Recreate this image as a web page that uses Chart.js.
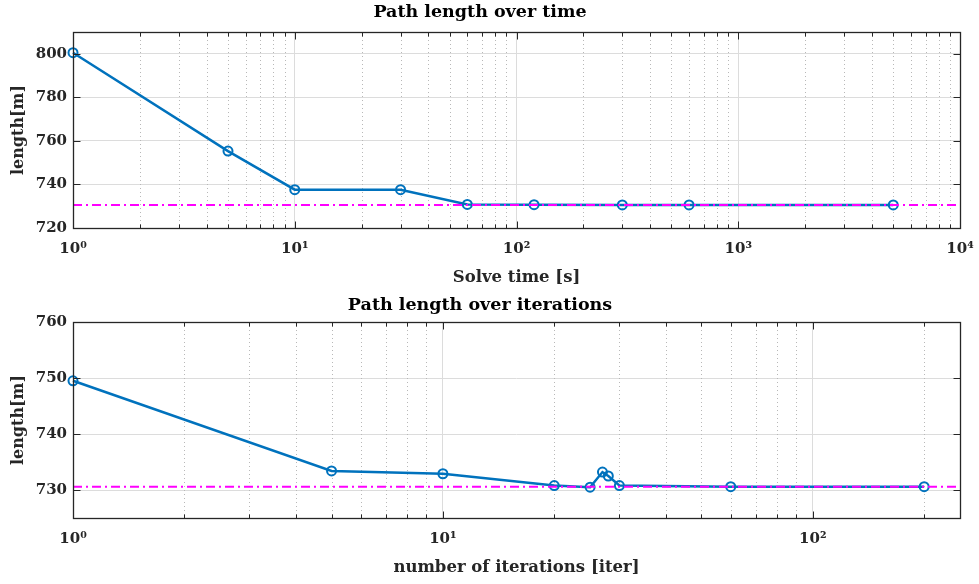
<!DOCTYPE html>
<html lang="en">
<head>
<meta charset="UTF-8">
<title>Path length</title>
<script src="https://cdn.jsdelivr.net/npm/chart.js"></script>
<style>
  html, body { margin: 0; padding: 0; background: #fff; }
  .panel { position: relative; width: 979px; }
  #topPanel { height: 290px; }
  #bottomPanel { height: 294px; }
</style>
</head>
<body>
<div class="panel" id="topPanel"><canvas id="timeChart"></canvas></div>
<div class="panel" id="bottomPanel"><canvas id="iterChart"></canvas></div>
<script>
// path length against solve time
const solveTimes  = [1, 5, 10, 30, 60, 120, 300, 600, 5000];
const timeLengths = [800.5, 755.3, 737.6, 737.6, 730.8, 730.7, 730.6, 730.6, 730.6];

// path length against number of iterations
const iterCounts  = [1, 5, 10, 20, 25, 27, 28, 30, 60, 200];
const iterLengths = [749.5, 733.4, 732.9, 730.8, 730.5, 733.2, 732.5, 730.8, 730.6, 730.6];

// reference length (dash-dot line)
const refLength = 730.6;

const timeYTicks = [720, 740, 760, 780, 800];
const iterYTicks = [730, 740, 750, 760];
const superscripts = ['\u2070', '\u00B9', '\u00B2', '\u00B3', '\u2074'];

const FONT = 'DejaVu Serif';
const TICK_SIZE = 15;
const LABEL_SIZE = 16.5;
const TITLE_SIZE = 17.5;
const AXIS_COLOR = '#262626';

// all 1..9 x 10^k values inside [min, max]; decades flagged as major
function logTicks(min, max) {
  const out = [];
  for (let k = Math.floor(Math.log10(min)); k <= Math.ceil(Math.log10(max)); k++) {
    for (let m = 1; m <= 9; m++) {
      const v = m * Math.pow(10, k);
      if (v >= min - 1e-9 && v <= max + 1e-9) out.push({ value: v, major: m === 1 });
    }
  }
  return out;
}

function decadeLabel(value) {
  const e = Math.round(Math.log10(value));
  if (Math.abs(Math.pow(10, e) - value) > 1e-6) return '';
  return '10' + superscripts[e];
}

// minor dotted grid, axes box and inward tick marks
const matlabFrame = {
  id: 'matlabFrame',
  beforeDatasetsDraw(chart) {
    const { ctx, chartArea: a, scales: { x } } = chart;
    ctx.save();
    ctx.strokeStyle = '#b8b8b8';
    ctx.lineWidth = 1;
    ctx.setLineDash([1, 3]);
    x.ticks.forEach(t => {
      if (t.major) return;
      const px = Math.round(x.getPixelForValue(t.value)) + 0.5;
      ctx.beginPath();
      ctx.moveTo(px, a.top);
      ctx.lineTo(px, a.bottom);
      ctx.stroke();
    });
    ctx.restore();
  },
  afterDatasetsDraw(chart) {
    const { ctx, chartArea: a, scales: { x, y } } = chart;
    const L = Math.round(a.left) + 0.5, R = Math.round(a.right) + 0.5;
    const T = Math.round(a.top) + 0.5, B = Math.round(a.bottom) + 0.5;
    ctx.save();
    ctx.strokeStyle = AXIS_COLOR;
    ctx.lineWidth = 1;
    ctx.beginPath();
    x.ticks.forEach(t => {
      const px = Math.round(x.getPixelForValue(t.value)) + 0.5;
      const len = t.major ? 7 : 4;
      ctx.moveTo(px, B); ctx.lineTo(px, B - len);
      ctx.moveTo(px, T); ctx.lineTo(px, T + len);
    });
    y.ticks.forEach(t => {
      const py = Math.round(y.getPixelForValue(t.value)) + 0.5;
      ctx.moveTo(L, py); ctx.lineTo(L + 7, py);
      ctx.moveTo(R, py); ctx.lineTo(R - 7, py);
    });
    ctx.stroke();
    ctx.lineWidth = 1.3;
    ctx.strokeRect(L, T, R - L, B - T);
    ctx.restore();
  }
};

function buildChart(id, cfg) {
  const xs = cfg.xValues, ys = cfg.yValues;
  return new Chart(document.getElementById(id), {
    type: 'line',
    data: {
      datasets: [
        {
          data: [{ x: cfg.xMin, y: refLength }, { x: cfg.xMax, y: refLength }],
          borderColor: '#FF00FF',
          borderWidth: 2,
          borderDash: [9, 4, 2, 4],
          pointRadius: 0,
          clip: false,
          order: 0
        },
        {
          data: xs.map((v, i) => ({ x: v, y: ys[i] })),
          borderColor: '#0072BD',
          borderWidth: 2.5,
          pointRadius: 4.5,
          pointBorderWidth: 2,
          pointBorderColor: '#0072BD',
          pointBackgroundColor: 'rgba(0,0,0,0)',
          tension: 0,
          clip: false,
          order: 1
        }
      ]
    },
    options: {
      responsive: true,
      maintainAspectRatio: false,
      animation: false,
      events: [],
      layout: { padding: { left: 0, right: 19, top: 0, bottom: 0 } },
      plugins: {
        legend: { display: false },
        tooltip: { enabled: false },
        title: {
          display: true,
          text: cfg.title,
          color: '#000',
          font: { family: FONT, size: TITLE_SIZE, weight: 'bold' },
          padding: cfg.titlePadding
        }
      },
      scales: {
        x: {
          type: 'logarithmic',
          min: cfg.xMin,
          max: cfg.xMax,
          afterBuildTicks: s => { s.ticks = logTicks(cfg.xMin, cfg.xMax); },
          afterFit: s => { s.height = cfg.xAxisHeight; s.paddingLeft = 0; s.paddingRight = 0; },
          grid: {
            drawTicks: false,
            color: c => (c.tick && c.tick.major) ? '#dcdcdc' : 'rgba(0,0,0,0)'
          },
          border: { display: false },
          ticks: {
            autoSkip: false,
            maxRotation: 0,
            padding: 12,
            color: AXIS_COLOR,
            font: { family: FONT, size: TICK_SIZE, weight: 'bold' },
            callback: v => decadeLabel(v)
          },
          title: {
            display: true,
            text: cfg.xTitle,
            color: AXIS_COLOR,
            font: { family: FONT, size: LABEL_SIZE, weight: 'bold' },
            padding: { top: 0, bottom: cfg.xTitlePad }
          }
        },
        y: {
          min: cfg.yMin,
          max: cfg.yMax,
          afterBuildTicks: s => { s.ticks = cfg.yTicks.map(v => ({ value: v })); },
          afterFit: s => { s.width = 73; s.paddingTop = 0; s.paddingBottom = 0; },
          grid: { drawTicks: false, color: '#dcdcdc' },
          border: { display: false },
          ticks: {
            padding: 6,
            color: AXIS_COLOR,
            font: { family: FONT, size: TICK_SIZE, weight: 'bold' }
          },
          title: {
            display: true,
            text: 'length[m]',
            color: AXIS_COLOR,
            font: { family: FONT, size: 16, weight: 'bold' },
            padding: { top: 9, bottom: 0 }
          }
        }
      }
    },
    plugins: [matlabFrame]
  });
}

buildChart('timeChart', {
  title: 'Path length over time',
  titlePadding: { top: 2, bottom: 9 },
  xTitle: 'Solve time [s]',
  xTitlePad: 2.5,
  xAxisHeight: 62,
  xValues: solveTimes,
  yValues: timeLengths,
  xMin: 1, xMax: 10000,
  yMin: 720, yMax: 810,
  yTicks: timeYTicks
});

buildChart('iterChart', {
  title: 'Path length over iterations',
  titlePadding: { top: 4.5, bottom: 6.5 },
  xTitle: 'number of iterations [iter]',
  xTitlePad: 6.5,
  xAxisHeight: 66,
  xValues: iterCounts,
  yValues: iterLengths,
  xMin: 1, xMax: 250,
  yMin: 725, yMax: 760,
  yTicks: iterYTicks
});
</script>
</body>
</html>
